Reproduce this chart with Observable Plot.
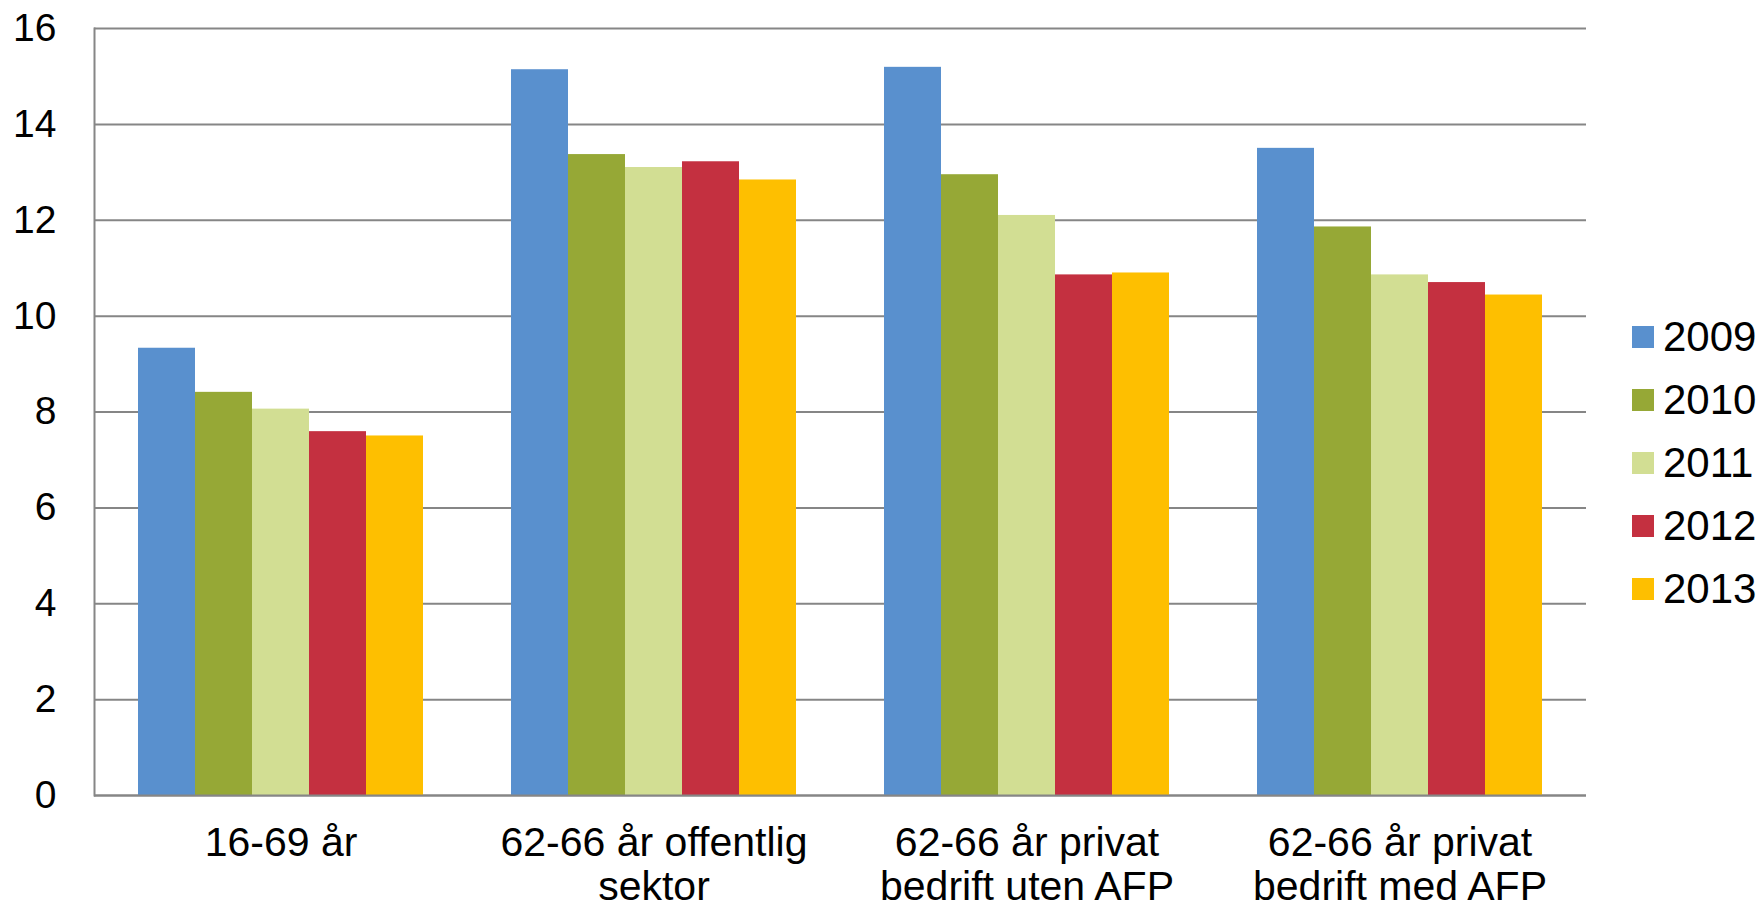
<!DOCTYPE html>
<html>
<head>
<meta charset="utf-8">
<script src="https://cdn.jsdelivr.net/npm/d3@7"></script>
<script src="https://cdn.jsdelivr.net/npm/@observablehq/plot@0.6"></script>
<style>
  html, body { margin: 0; padding: 0; background: #fff; }
  #wrap { position: relative; width: 1761px; height: 910px; font-family: "Liberation Sans", Arial, sans-serif; }
  #legend { position: absolute; left: 1632px; top: 305.5px; }
  .item { display: flex; align-items: center; height: 63px; font-size: 42px; color: #000; }
  .sw { width: 22px; height: 22px; margin-right: 9px; flex: none; }
</style>
</head>
<body>
<div id="wrap"><div id="legend"></div></div>
<script>
const categories = ["16-69 år", "62-66 år offentlig sektor", "62-66 år privat bedrift uten AFP", "62-66 år privat bedrift med AFP"];
const categoryLabels = ["16-69 år", "62-66 år offentlig\nsektor", "62-66 år privat\nbedrift uten AFP", "62-66 år privat\nbedrift med AFP"];
const years = ["2009", "2010", "2011", "2012", "2013"];
const v2009 = [9.33, 15.14, 15.19, 13.50];
const v2010 = [8.41, 13.37, 12.95, 11.86];
const v2011 = [8.06, 13.10, 12.10, 10.86];
const v2012 = [7.59, 13.22, 10.86, 10.70];
const v2013 = [7.50, 12.84, 10.90, 10.44];
const colors = ["#5990CE", "#96A836", "#D2DE93", "#C43040", "#FEBF00"];
const yTicks = [0, 2, 4, 6, 8, 10, 12, 14, 16];

const series = [v2009, v2010, v2011, v2012, v2013];
const rows = [];
categories.forEach((c, i) => years.forEach((y, j) => rows.push({cat: c, year: y, value: series[j][i]})));
const labelOf = new Map(categories.map((c, i) => [c, categoryLabels[i]]));

const grey = "#868686";
const chart = Plot.plot({
  width: 1761,
  height: 910,
  marginTop: 28,
  marginBottom: 115,
  marginLeft: 94,
  marginRight: 175,
  style: {fontFamily: "'Liberation Sans', Arial, sans-serif", fontSize: "40px", color: "#000", background: "#fff"},
  fx: {domain: categories, padding: 0, label: null},
  x: {domain: years, paddingInner: 0, paddingOuter: 0.75, axis: null},
  y: {domain: [0, 16], label: null},
  color: {domain: years, range: colors},
  marks: [
    Plot.gridY(yTicks, {stroke: grey, strokeOpacity: 1, strokeWidth: 2}),
    Plot.barY(rows, {fx: "cat", x: "year", y: "value", fill: "year"}),
    Plot.ruleY([0], {stroke: grey, strokeWidth: 2}),
    Plot.frame({anchor: "left", facet: "super", stroke: grey, strokeWidth: 2}),
    Plot.axisY(yTicks, {tickSize: 0, tickPadding: 38, label: null, fontSize: 39}),
    Plot.axisFx({anchor: "bottom", tickSize: 0, tickPadding: 29, label: null, fontSize: 41, lineHeight: 1.08, tickFormat: c => labelOf.get(c)})
  ]
});
const wrap = document.getElementById("wrap");
wrap.insertBefore(chart, wrap.firstChild);

const legend = document.getElementById("legend");
years.forEach((y, i) => {
  const item = document.createElement("div");
  item.className = "item";
  const sw = document.createElement("div");
  sw.className = "sw";
  sw.style.background = colors[i];
  const t = document.createElement("span");
  t.textContent = y;
  item.appendChild(sw);
  item.appendChild(t);
  legend.appendChild(item);
});
</script>
</body>
</html>
